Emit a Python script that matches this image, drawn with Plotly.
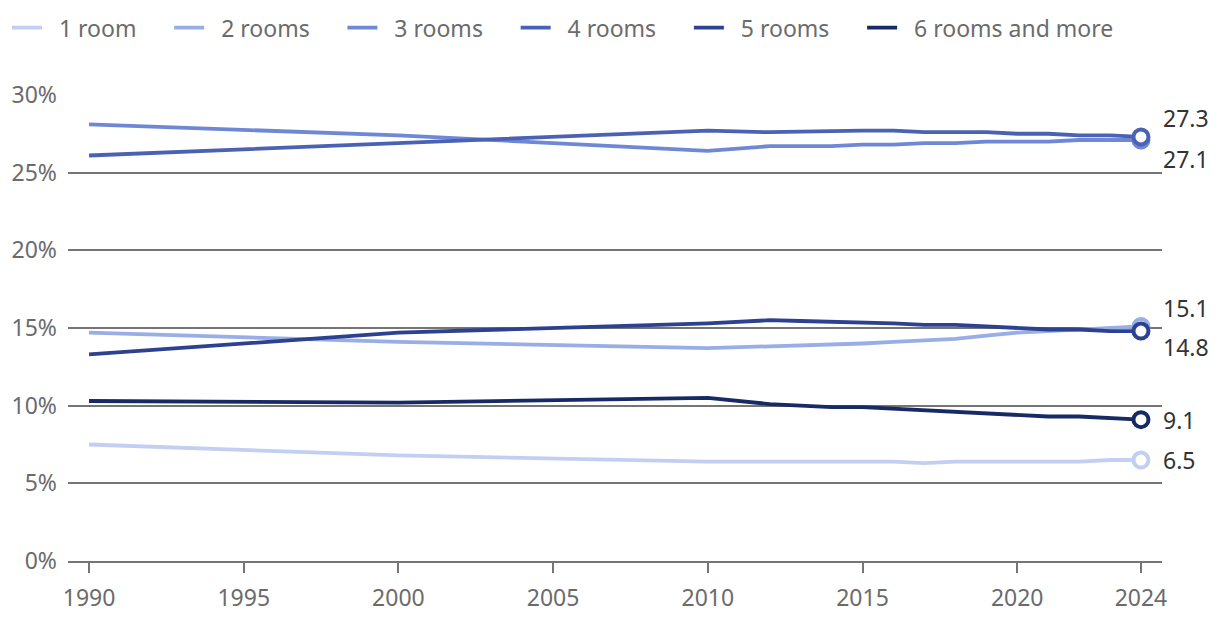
import plotly.graph_objects as go

years = [1990, 2000, 2010, 2012, 2013, 2014, 2015, 2016, 2017, 2018, 2019, 2020, 2021, 2022, 2023, 2024]

room1 = [7.5, 6.8, 6.4, 6.4, 6.4, 6.4, 6.4, 6.4, 6.3, 6.4, 6.4, 6.4, 6.4, 6.4, 6.5, 6.5]
room2 = [14.7, 14.1, 13.7, 13.8, 13.85, 13.9, 14.0, 14.1, 14.2, 14.3, 14.5, 14.7, 14.8, 14.9, 15.0, 15.1]
room3 = [28.1, 27.4, 26.4, 26.7, 26.7, 26.7, 26.8, 26.8, 26.9, 26.9, 27.0, 27.0, 27.0, 27.1, 27.1, 27.1]
room4 = [26.1, 26.9, 27.7, 27.6, 27.65, 27.7, 27.7, 27.7, 27.6, 27.6, 27.6, 27.5, 27.5, 27.4, 27.4, 27.3]
room5 = [13.3, 14.7, 15.3, 15.5, 15.45, 15.4, 15.4, 15.3, 15.2, 15.2, 15.1, 15.0, 14.9, 14.9, 14.8, 14.8]
room6 = [10.3, 10.2, 10.5, 10.1, 10.0, 9.9, 9.9, 9.8, 9.7, 9.6, 9.5, 9.4, 9.3, 9.3, 9.2, 9.1]

series_names = ["1 room", "2 rooms", "3 rooms", "4 rooms", "5 rooms", "6 rooms and more"]
series_values = [room1, room2, room3, room4, room5, room6]
colors = ["#c3cff2", "#99ade6", "#6e88d6", "#4a62b4", "#2c418f", "#172a66"]

end_labels = ["6.5", "15.1", "27.1", "27.3", "14.8", "9.1"]
label_shift = [0, -18, 19, -19, 16, 0]

tick_vals = [0, 5, 10, 15, 20, 25, 30]
tick_text = ["0%", "5%", "10%", "15%", "20%", "25%", "30%"]
x_ticks = [1990, 1995, 2000, 2005, 2010, 2015, 2020, 2024]

FONT = "Noto Sans"
LEAD = "\u00a0\u00a0"
TRAIL = "\u00a0\u00a0\u00a0\u00a0\u2009"

fig = go.Figure()
for i, (name, vals, col) in enumerate(zip(series_names, series_values, colors)):
    label = LEAD + name + (TRAIL if i < len(series_names) - 1 else "")
    fig.add_trace(go.Scatter(
        x=years, y=vals, name=label, mode="lines",
        line=dict(color=col, width=3.8),
        hoverinfo="skip",
    ))

for name, vals, col, lab, dy in zip(series_names, series_values, colors, end_labels, label_shift):
    fig.add_trace(go.Scatter(
        x=[years[-1]], y=[vals[-1]], mode="markers", showlegend=False,
        marker=dict(size=15, color="white", line=dict(color=col, width=4)),
        hoverinfo="skip", cliponaxis=False,
    ))
    fig.add_annotation(
        x=years[-1], y=vals[-1], text=lab, showarrow=False,
        xanchor="left", yanchor="middle", xshift=20, yshift=-dy,
        font=dict(size=23, color="#333333", family=FONT),
    )

fig.update_layout(
    width=1212, height=622,
    margin=dict(l=60, r=58, t=86, b=69, autoexpand=False),
    plot_bgcolor="white", paper_bgcolor="white",
    font=dict(family=FONT, size=23, color="#6b6b6b"),
    legend=dict(
        orientation="h", x=-0.0558, y=1.188, xanchor="left", yanchor="top",
        xref="paper", yref="paper",
        font=dict(size=23, color="#6b6b6b", family=FONT),
        traceorder="normal",
    ),
    xaxis=dict(
        range=[1989.32, 2024.68], tickvals=x_ticks, ticktext=[str(v) for v in x_ticks],
        showgrid=False, showline=True, linecolor="#757575", linewidth=2,
        ticks="outside", ticklen=10, tickwidth=2, tickcolor="#757575",
        tickfont=dict(size=23, color="#6b6b6b", family=FONT), zeroline=False,
        automargin=False, ticklabelstandoff=5,
    ),
    yaxis=dict(
        range=[0, 30.06], tickvals=tick_vals, ticktext=tick_text,
        showgrid=True, gridcolor="#757575", gridwidth=2, zeroline=False,
        showline=False, ticks="", ticklabelstandoff=10,
        tickfont=dict(size=23, color="#6b6b6b", family=FONT),
        automargin=False,
    ),
    showlegend=True,
)

fig.write_html("out.html")
